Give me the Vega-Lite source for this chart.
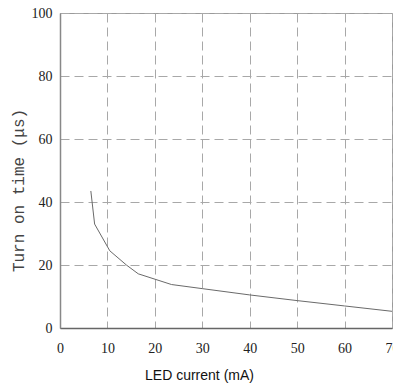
{
  "$schema": "https://vega.github.io/schema/vega-lite/v6.json",
  "width": 332,
  "height": 315,
  "autosize": {"type": "none"},
  "padding": {"left": 60, "top": 13, "right": 1, "bottom": 57},
  "background": "white",
  "config": {"view": {"stroke": "#9a9a9a", "strokeWidth": 1}},
  "data": {"values": [
    {"current": 6.5, "time": 43.5},
    {"current": 7.3, "time": 33},
    {"current": 10.5, "time": 24.5},
    {"current": 14, "time": 20},
    {"current": 16.5, "time": 17.2},
    {"current": 23.5, "time": 13.8},
    {"current": 30, "time": 12.5},
    {"current": 40, "time": 10.5},
    {"current": 50, "time": 8.7},
    {"current": 60, "time": 7},
    {"current": 70, "time": 5.3}
  ]},
  "mark": {"type": "line", "color": "#6a6a6a", "strokeWidth": 1, "clip": true},
  "encoding": {
    "x": {
      "field": "current", "type": "quantitative",
      "scale": {"domain": [0, 70], "nice": false},
      "axis": {
        "values": [0, 10, 20, 30, 40, 50, 60, 70],
        "title": "LED current (mA)",
        "titleFont": "Liberation Sans", "titleFontSize": 14, "titleFontWeight": "normal", "titleColor": "#111",
        "titleX": 139, "titleY": 47, "titleBaseline": "middle",
        "labelFont": "Liberation Serif", "labelFontSize": 14, "labelColor": "#222",
        "labelPadding": 13, "labelFlush": false, "labelOverlap": false,
        "ticks": false,
        "domainColor": "#666", "domainWidth": 1.5,
        "grid": true, "gridColor": "#a8a8a8", "gridDash": [9, 5], "gridWidth": 1
      }
    },
    "y": {
      "field": "time", "type": "quantitative",
      "scale": {"domain": [0, 100], "nice": false},
      "axis": {
        "values": [0, 20, 40, 60, 80, 100],
        "title": "Turn on time (μs)",
        "titleFont": "Liberation Mono", "titleFontSize": 16, "titleFontWeight": "normal", "titleColor": "#444",
        "titleX": -42, "titleY": 177, "titleBaseline": "middle",
        "labelFont": "Liberation Serif", "labelFontSize": 14, "labelColor": "#222",
        "labelPadding": 8, "labelFlush": false, "labelOverlap": false,
        "ticks": false,
        "domainColor": "#888", "domainWidth": 1.5,
        "grid": true, "gridColor": "#a8a8a8", "gridDash": [9, 5], "gridWidth": 1
      }
    }
  }
}
